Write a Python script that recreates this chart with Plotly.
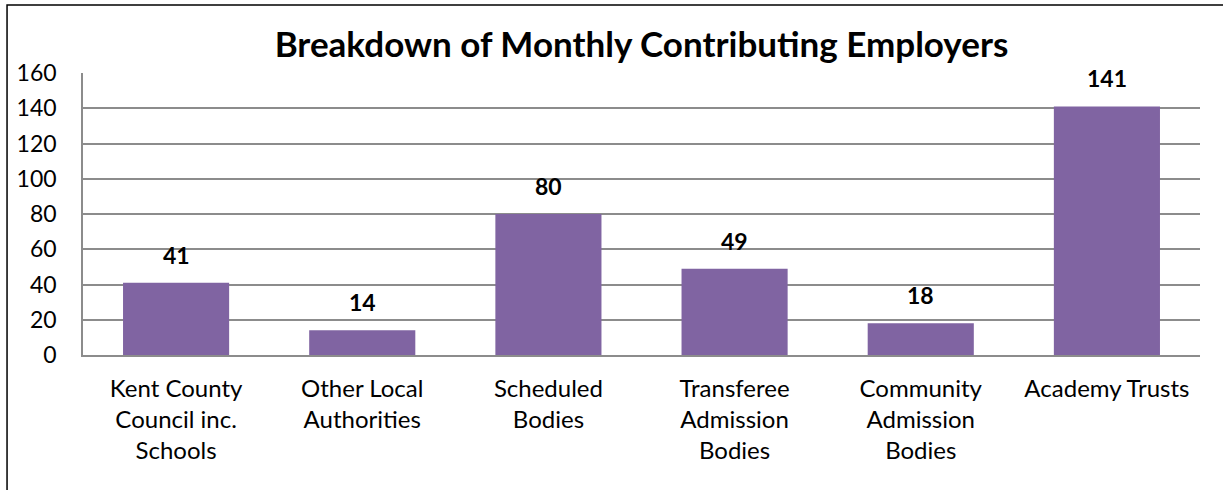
import plotly.graph_objects as go

categories = [
    "Kent County<br>Council inc.<br>Schools",
    "Other Local<br>Authorities",
    "Scheduled<br>Bodies",
    "Transferee<br>Admission<br>Bodies",
    "Community<br>Admission<br>Bodies",
    "Academy Trusts",
]
employers = [41, 14, 80, 49, 18, 141]
y_ticks = [0, 20, 40, 60, 80, 100, 120, 140, 160]

FONT = "Lato, Calibri, 'Open Sans', sans-serif"
BAR_COLOUR = "#8064A2"
GRID_COLOUR = "#8C8C8C"

fig = go.Figure()

fig.add_trace(go.Bar(
    x=categories, y=employers, marker=dict(color=BAR_COLOUR, line=dict(width=0)),
    hoverinfo="skip", showlegend=False))

# bold value labels above each bar
for cat, val in zip(categories, employers):
    fig.add_annotation(
        x=cat, y=val, text=f"<b>{val}</b>", showarrow=False,
        yanchor="bottom", yshift=12, font=dict(size=23, color="black", family=FONT))

fig.update_layout(
    width=1223, height=490,
    margin=dict(l=83, r=23, t=73, b=135),
    paper_bgcolor="white", plot_bgcolor="white",
    font=dict(family=FONT, size=23, color="black"),
    title=dict(
        text="<b>Breakdown of Monthly Contributing Employers</b>",
        xref="paper", x=0.5, xanchor="center", y=0.908, yanchor="middle",
        font=dict(size=35, color="black", family=FONT)),
    bargap=0.43,
    xaxis=dict(
        showline=True, linecolor=GRID_COLOUR, linewidth=1.5, showgrid=False,
        ticks="", tickfont=dict(size=24), ticklabelstandoff=11, automargin=False),
    yaxis=dict(
        range=[0, 160], tickvals=y_ticks, showline=True, linecolor=GRID_COLOUR,
        linewidth=1.5, showgrid=True, gridcolor=GRID_COLOUR, gridwidth=1.5,
        zeroline=False, ticks="", tickfont=dict(size=23), ticklabelstandoff=20,
        automargin=False),
    # chart border: only the left and top edges fall inside the picture
    shapes=[dict(
        type="rect", xref="paper", yref="paper",
        x0=-0.068, x1=1.1, y0=-0.6, y1=1.241,
        line=dict(color="black", width=1.5), layer="below")],
)

# drop the browser's default body margin so the figure sits at the page corner
fig.write_html(
    "out.html", config={"displayModeBar": False},
    post_script="document.body.style.margin='0';")
